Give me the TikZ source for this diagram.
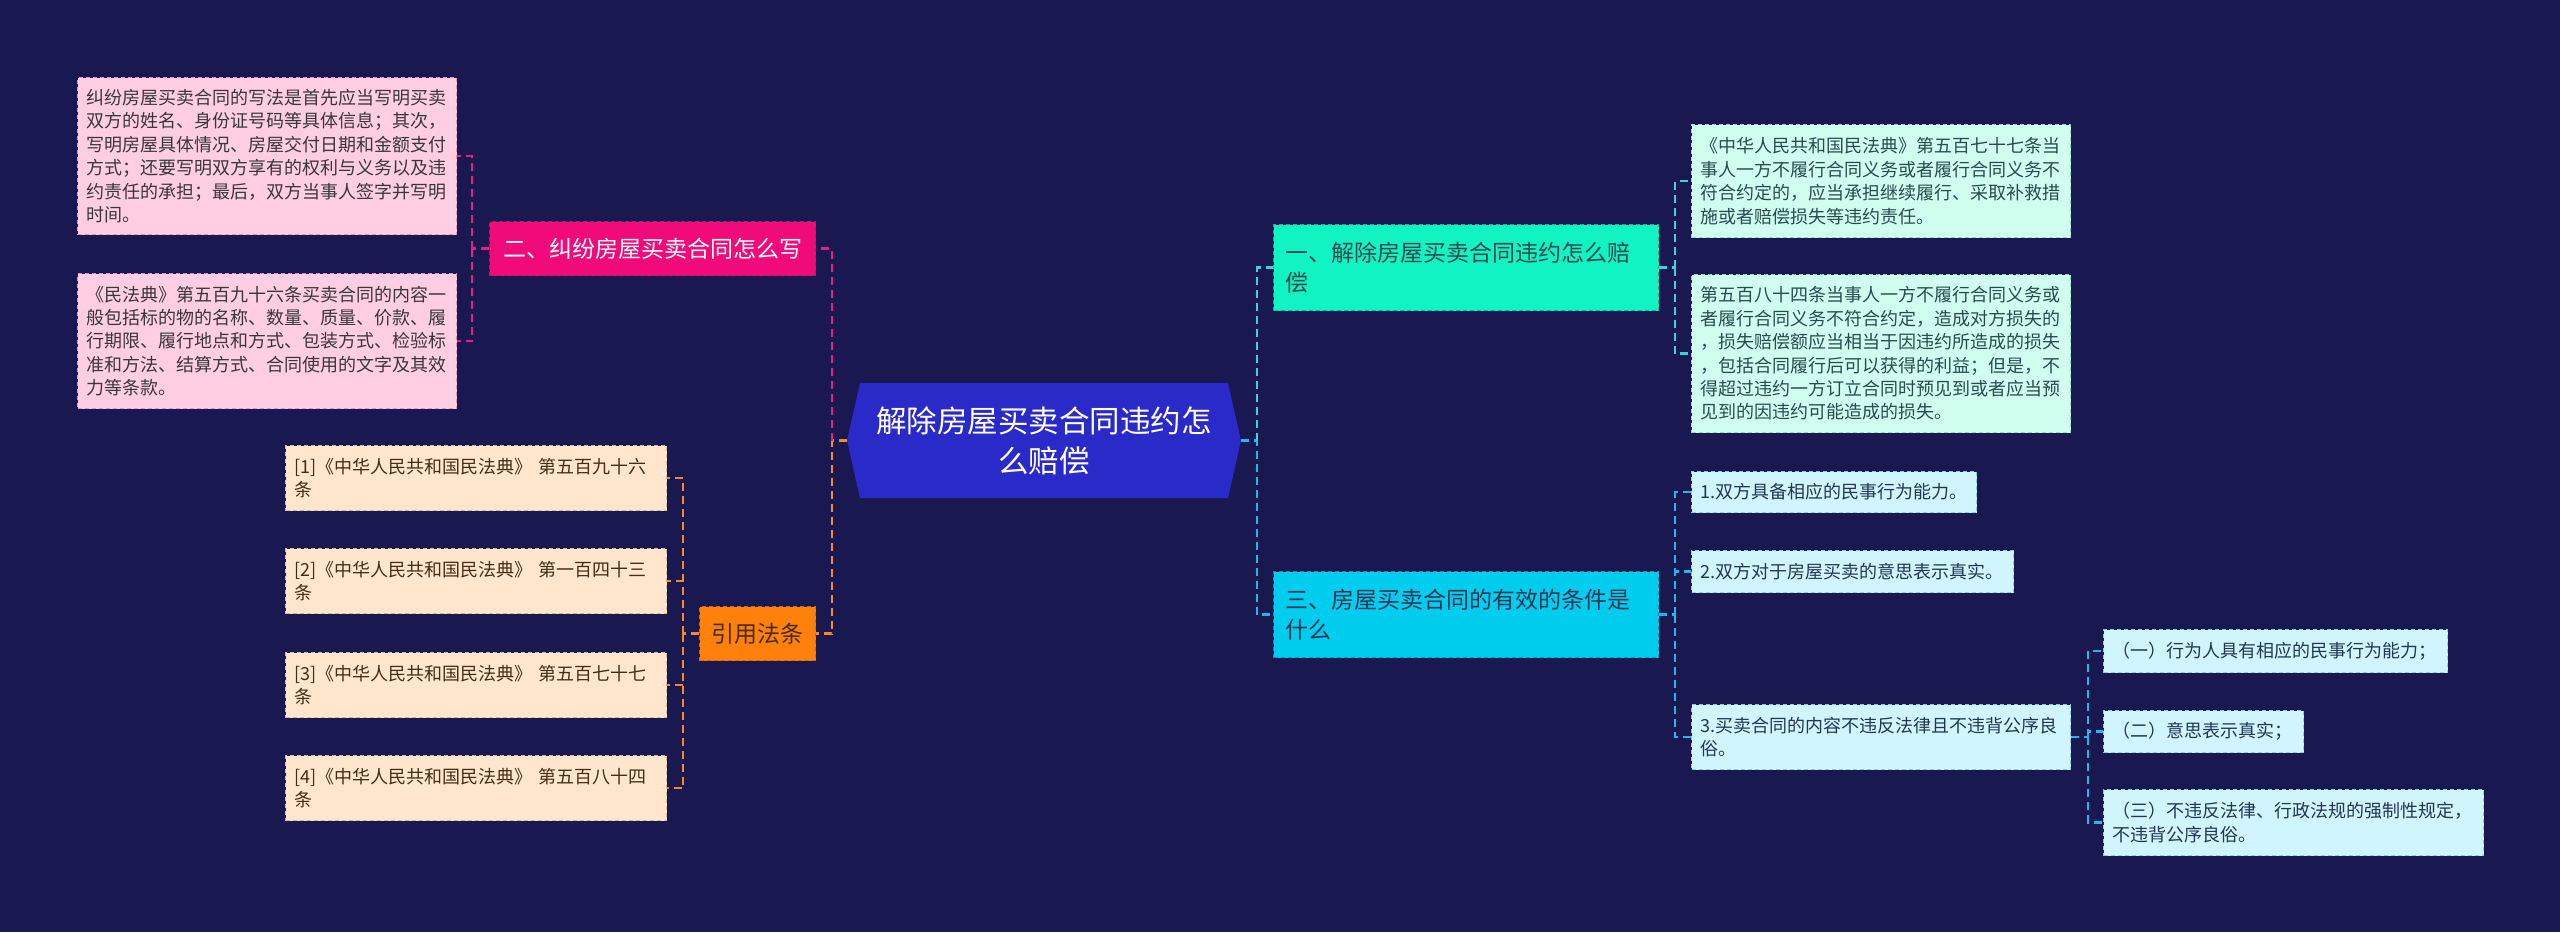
\documentclass[tikz,border=0pt]{standalone}
\usepackage{fontspec}
\setmainfont{Noto Sans CJK SC}
\usetikzlibrary{calc}
\definecolor{bg}{RGB}{26,24,80}
\definecolor{cblue}{RGB}{42,42,200}
\definecolor{magfill}{RGB}{240,10,122}
\definecolor{magline}{RGB}{224,30,135}
\definecolor{pinkfill}{RGB}{255,206,226}
\definecolor{pinkdraw}{RGB}{225,150,190}
\definecolor{orafill}{RGB}{255,128,10}
\definecolor{oraline}{RGB}{250,135,40}
\definecolor{creamfill}{RGB}{255,230,204}
\definecolor{creamdraw}{RGB}{215,185,150}
\definecolor{aquafill}{RGB}{18,243,196}
\definecolor{aqualine}{RGB}{60,210,220}
\definecolor{mintfill}{RGB}{208,255,240}
\definecolor{mintdraw}{RGB}{150,215,205}
\definecolor{cyanfill}{RGB}{0,204,238}
\definecolor{cyanline}{RGB}{30,185,235}
\definecolor{lcyanfill}{RGB}{208,245,252}
\definecolor{lcyandraw}{RGB}{140,205,228}
\definecolor{darkgray}{RGB}{55,55,60}
\definecolor{brown}{RGB}{70,45,20}
\definecolor{teal}{RGB}{40,75,80}
\definecolor{slate}{RGB}{35,55,85}
\begin{document}
\begin{tikzpicture}[x=1pt,y=-1pt,
  base/.style={anchor=north west, inner xsep=9pt, inner ysep=0pt, align=left, line width=1.2pt, dash pattern=on 4pt off 3pt},
  small/.style={font=\fontsize{18}{23.4}\selectfont},
  mid/.style={font=\fontsize{23}{30}\selectfont},
  pinkbox/.style={base, small, fill=pinkfill, draw=pinkdraw, text=darkgray},
  creambox/.style={base, small, fill=creamfill, draw=creamdraw, text=brown},
  mintbox/.style={base, small, fill=mintfill, draw=mintdraw, text=teal},
  cyanbox/.style={base, small, fill=lcyanfill, draw=lcyandraw, text=slate},
  magnode/.style={base, mid, align=center, fill=magfill, draw=magline!80!black, text=white},
  oranode/.style={base, mid, align=center, fill=orafill, draw=oraline!80!black, text=brown},
  aquanode/.style={base, mid, inner xsep=12pt, fill=aquafill, draw=aquafill!75!black, text=teal},
  cyannode/.style={base, mid, inner xsep=12pt, fill=cyanfill, draw=cyanfill!75!black, text=slate},
  conn/.style={line width=2.5pt, dash pattern=on 8pt off 5pt},
]
\fill[bg] (0,0) rectangle (2560,932);
\useasboundingbox (0,0) rectangle (2560,932);

% centre
\path (860,383) coordinate (cnw) (1228,498) coordinate (cse);
\coordinate (cl) at (847,440.5);
\coordinate (cr) at (1241,440.5);
\fill[cblue] (cnw) -- (cnw -| cse) -- (cr) -- (cse) -- (cse -| cnw) -- (cl) -- cycle;
\node[align=center, text=white, font=\fontsize{30.5}{40}\selectfont] (c) at ($(cl)!0.5!(cr)$) {解除房屋买卖合同违约怎\\么赔偿};

% left top branch
\node[magnode, minimum width=326pt, minimum height=54pt] (m2) at (489,221) {二、纠纷房屋买卖合同怎么写};
\node[pinkbox, minimum width=379pt, minimum height=157pt, text width=361pt] (p1) at (77,77) {纠纷房屋买卖合同的写法是首先应当写明买卖\\双方的姓名、身份证号码等具体信息；其次，\\写明房屋具体情况、房屋交付日期和金额支付\\方式；还要写明双方享有的权利与义务以及违\\约责任的承担；最后，双方当事人签字并写明\\时间。};
\node[pinkbox, minimum width=379pt, minimum height=135pt, text width=361pt] (p2) at (77,273) {《民法典》第五百九十六条买卖合同的内容一\\般包括标的物的名称、数量、质量、价款、履\\行期限、履行地点和方式、包装方式、检验标\\准和方法、结算方式、合同使用的文字及其效\\力等条款。};

% left bottom branch
\node[oranode, minimum width=116pt, minimum height=54pt] (law) at (699,606) {引用法条};
\node[creambox, minimum width=381pt, minimum height=65pt, text width=363pt] (q1) at (285,445) {[1]《中华人民共和国民法典》 第五百九十六\\条};
\node[creambox, minimum width=381pt, minimum height=65pt, text width=363pt] (q2) at (285,548) {[2]《中华人民共和国民法典》 第一百四十三\\条};
\node[creambox, minimum width=381pt, minimum height=65pt, text width=363pt] (q3) at (285,652) {[3]《中华人民共和国民法典》 第五百七十七\\条};
\node[creambox, minimum width=381pt, minimum height=65pt, text width=363pt] (q4) at (285,755) {[4]《中华人民共和国民法典》 第五百八十四\\条};

% right top branch
\node[aquanode, minimum width=385pt, minimum height=86pt, text width=361pt] (r1) at (1273,224) {一、解除房屋买卖合同违约怎么赔\\偿};
\node[mintbox, minimum width=379pt, minimum height=113pt, text width=361pt] (a1) at (1691,124) {《中华人民共和国民法典》第五百七十七条当\\事人一方不履行合同义务或者履行合同义务不\\符合约定的，应当承担继续履行、采取补救措\\施或者赔偿损失等违约责任。};
\node[mintbox, minimum width=379pt, minimum height=158pt, text width=361pt] (a2) at (1691,274) {第五百八十四条当事人一方不履行合同义务或\\者履行合同义务不符合约定，造成对方损失的\\，损失赔偿额应当相当于因违约所造成的损失\\，包括合同履行后可以获得的利益；但是，不\\得超过违约一方订立合同时预见到或者应当预\\见到的因违约可能造成的损失。};

% right bottom branch
\node[cyannode, minimum width=385pt, minimum height=86pt, text width=361pt] (r3) at (1273,571) {三、房屋买卖合同的有效的条件是\\什么};
\node[cyanbox, minimum width=285pt, minimum height=41pt, text width=267pt] (b1) at (1691,471) {1.双方具备相应的民事行为能力。};
\node[cyanbox, minimum width=322pt, minimum height=42pt, text width=304pt] (b2) at (1691,550) {2.双方对于房屋买卖的意思表示真实。};
\node[cyanbox, minimum width=379pt, minimum height=65pt, text width=361pt] (b3) at (1691,704) {3.买卖合同的内容不违反法律且不违背公序良\\俗。};
\node[cyanbox, minimum width=344pt, minimum height=43pt, text width=326pt] (c1) at (2103,629) {（一）行为人具有相应的民事行为能力；};
\node[cyanbox, minimum width=200pt, minimum height=42pt, text width=182pt] (c2) at (2103,710) {（二）意思表示真实；};
\node[cyanbox, minimum width=380pt, minimum height=66pt, text width=362pt] (c3) at (2103,789) {（三）不违反法律、行政法规的强制性规定，\\不违背公序良俗。};

% connectors
\draw[conn, oraline] (cl) -- ++(-15,0) coordinate (jl) |- (law.east);
\draw[conn, magline] (jl) |- (m2.east);
\draw[conn, magline] (m2.west) -- ++(-17,0) coordinate (jm);
\draw[conn, magline] (jm) |- (p1.east);
\draw[conn, magline] (jm) |- (p2.east);
\draw[conn, oraline] (law.west) -- ++(-16,0) coordinate (jo);
\draw[conn, oraline] (jo) |- (q1.east);
\draw[conn, oraline] (jo) |- (q2.east);
\draw[conn, oraline] (jo) |- (q3.east);
\draw[conn, oraline] (jo) |- (q4.east);

\draw[conn, cyanline] (cr) -- ++(16,0) coordinate (jr) |- (r3.west);
\draw[conn, aqualine] (jr) |- (r1.west);
\draw[conn, aqualine] (r1.east) -- ++(16,0) coordinate (ja);
\draw[conn, aqualine] (ja) |- (a1.west);
\draw[conn, aqualine] (ja) |- (a2.west);
\draw[conn, cyanline] (r3.east) -- ++(16,0) coordinate (jb);
\draw[conn, cyanline] (jb) |- (b1.west);
\draw[conn, cyanline] (jb) |- (b2.west);
\draw[conn, cyanline] (jb) |- (b3.west);
\draw[conn, cyanline] (b3.east) -- ++(17,0) coordinate (jc);
\draw[conn, cyanline] (jc) |- (c1.west);
\draw[conn, cyanline] (jc) |- (c2.west);
\draw[conn, cyanline] (jc) |- (c3.west);
\end{tikzpicture}
\end{document}
